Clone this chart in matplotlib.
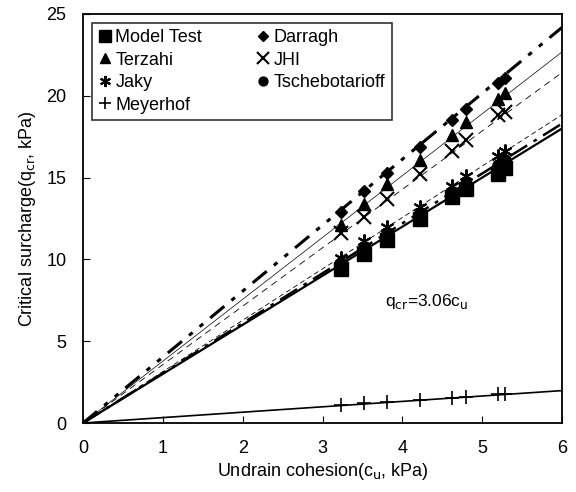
import matplotlib.pyplot as plt
import numpy as np

plt.rcParams['font.family'] = ['Liberation Sans', 'DejaVu Sans']

cu = [3.23, 3.52, 3.81, 4.22, 4.62, 4.80, 5.20, 5.29]

model_test = [9.4, 10.3, 11.2, 12.5, 13.8, 14.3, 15.2, 15.6]
darragh = [12.9, 14.2, 15.3, 16.9, 18.5, 19.2, 20.8, 21.1]
terzahi = [12.1, 13.4, 14.6, 16.1, 17.6, 18.4, 19.8, 20.2]
jhi = [11.6, 12.6, 13.7, 15.2, 16.6, 17.3, 18.8, 19.0]
jaky = [10.1, 11.1, 12.0, 13.2, 14.5, 15.1, 16.3, 16.6]
tscheb = [9.8, 10.7, 11.6, 12.8, 14.0, 14.6, 15.8, 16.1]
meyerhof = [1.1, 1.2, 1.3, 1.4, 1.55, 1.6, 1.75, 1.8]

# slopes of the lines through the origin
slope_model = 3.0
slope_darragh = 4.03
slope_terzahi = 3.78
slope_jhi = 3.57
slope_jaky = 3.14
slope_tscheb = 3.05
slope_meyerhof = 0.33

fig = plt.figure(figsize=(5.76, 4.92), dpi=100)
ax = fig.add_axes([83/576, 1-423/492, 479/576, 409/492])

xl = np.array([0, 6])
ax.plot(xl, slope_darragh*xl, color='black', lw=2.2, ls=(0, (6, 3, 1.5, 3, 1.5, 3)))
ax.plot(xl, slope_terzahi*xl, color='black', lw=0.5, ls='-')
ax.plot(xl, slope_jhi*xl, color='black', lw=0.6, ls=(0, (8, 6)))
ax.plot(xl, slope_jaky*xl, color='black', lw=0.6, ls=(0, (6, 4)))
ax.plot(xl, slope_tscheb*xl, color='black', lw=1.8, ls=(0, (8, 3, 1.5, 3)))
ax.plot(xl, slope_model*xl, color='black', lw=1.6, ls='-')
ax.plot(xl, slope_meyerhof*xl, color='black', lw=1.2, ls='-')

ms = dict(color='black', ls='none')
ax.plot(cu, tscheb, marker='o', markersize=8, label='Tschebotarioff', **ms)
ax.plot(cu, model_test, marker='s', markersize=10, label='Model Test', **ms)
ax.plot(cu, darragh, marker='D', markersize=6, label='Darragh', **ms)
ax.plot(cu, terzahi, marker='^', markersize=9, label='Terzahi', **ms)
ax.plot(cu, jhi, marker='x', markersize=10, mew=1.5, label='JHI', **ms)
ax.plot(cu, jaky, marker=(6, 2, 0), markersize=10, mew=1.5, label='Jaky', **ms)
ax.plot(cu, meyerhof, marker='+', markersize=10, mew=1.2, label='Meyerhof', **ms)

h, l = ax.get_legend_handles_labels()
order = ['Model Test', 'Terzahi', 'Jaky', 'Meyerhof', 'Darragh', 'JHI', 'Tschebotarioff']
hh = [h[l.index(o)] for o in order]
leg = ax.legend(hh, order, ncol=2, loc='upper left', bbox_to_anchor=(0.0, 1.0),
                fontsize=13, frameon=True, fancybox=False, edgecolor='black',
                handlelength=0.7, handletextpad=0.25, columnspacing=3.0,
                labelspacing=0.3, borderpad=0.35, markerscale=0.8)
leg.get_frame().set_linewidth(1.2)

ax.text(4.31, 7.4, r'q$_{\rm cr}$=3.06c$_{\rm u}$', fontsize=12.5, ha='center', va='center')

ax.set_xlim(0, 6)
ax.set_ylim(0, 25)
ax.set_xticks(range(0, 7))
ax.set_yticks(range(0, 30, 5))
ax.tick_params(direction='in', labelsize=13, length=5, pad=12)
for s in ax.spines.values():
    s.set_linewidth(1.3)
ax.set_xlabel('Undrain cohesion(c$_{\\rm u}$, kPa)', fontsize=13, labelpad=3)
ax.set_ylabel('Critical surcharge(q$_{\\rm cr}$, kPa)', fontsize=13, labelpad=6)

fig.savefig('out.png', dpi=100)
